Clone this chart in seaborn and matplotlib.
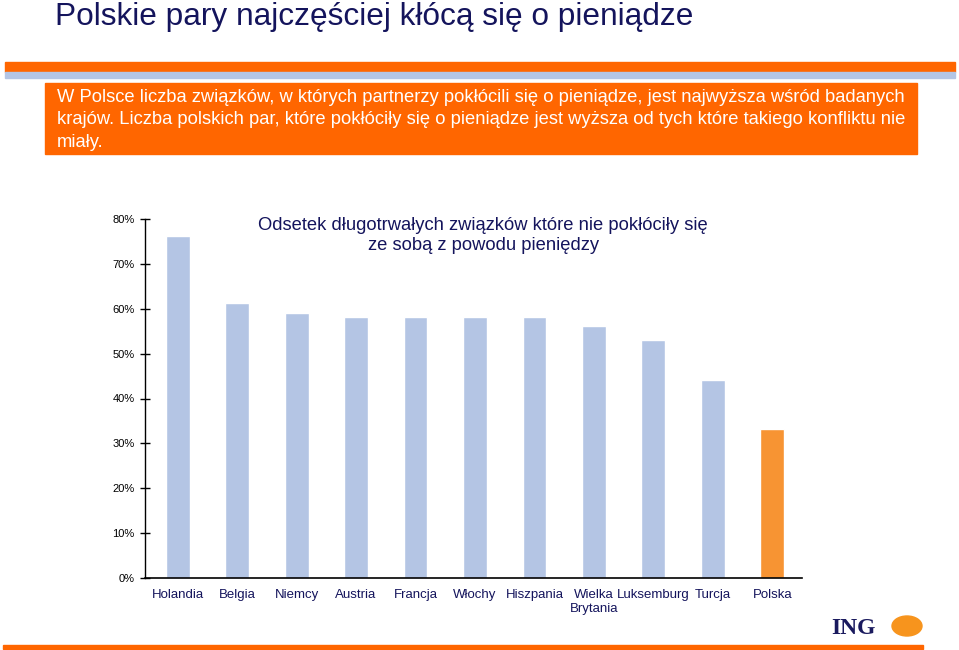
import matplotlib
matplotlib.use("Agg")
import matplotlib.pyplot as plt
import matplotlib.patches as patches
from matplotlib.ticker import PercentFormatter
import seaborn as sns

sns.set_style("white")
plt.rcParams['font.family'] = ['Liberation Sans', 'DejaVu Sans']

# Data
countries = ["Holandia", "Belgia", "Niemcy", "Austria", "Francja", "Włochy", "Hiszpania",
             "Wielka\nBrytania", "Luksemburg", "Turcja", "Polska"]
values = [76.2, 61.2, 59.0, 58.1, 58.1, 58.1, 58.1, 56.1, 53.0, 44.1, 33.2]
bar_colors = ["#b4c5e4"] * 10 + ["#f79433"]
yticks = [0, 10, 20, 30, 40, 50, 60, 70, 80]

title = "Polskie pary najczęściej kłócą się o pieniądze"
box_text = ("W Polsce liczba związków, w których partnerzy pokłócili się o pieniądze, jest najwyższa wśród badanych\n"
            "krajów. Liczba polskich par, które pokłóciły się o pieniądze jest wyższa od tych które takiego konfliktu nie\n"
            "miały.")
chart_title = "Odsetek długotrwałych związków które nie pokłóciły się\nze sobą z powodu pieniędzy"

navy = "#14145c"
W, H = 959, 650

fig = plt.figure(figsize=(W / 100, H / 100), dpi=100)

def fx(x):
    return x / W

def fy(y):
    return 1 - y / H

# Header
fig.text(fx(55), fy(17), title, fontsize=22.8, color=navy, va="center", ha="left")
fig.patches.append(patches.Rectangle((fx(5), fy(72)), fx(950), 10 / H, transform=fig.transFigure,
                                     color="#ff6600", zorder=0))
fig.patches.append(patches.Rectangle((fx(5), fy(78)), fx(950), 6 / H, transform=fig.transFigure,
                                     color="#b4c5e4", zorder=0))
fig.patches.append(patches.Rectangle((fx(45), fy(154)), fx(872), 71 / H, transform=fig.transFigure,
                                     color="#ff6600", zorder=0))
fig.text(fx(57), fy(120), box_text, fontsize=13.2, color="white", va="center", ha="left",
         linespacing=1.4)

# Bar chart
ax = fig.add_axes([fx(145), fy(578), fx(802 - 145), (578 - 219) / H])
sns.barplot(x=countries, y=values, hue=countries, palette=bar_colors, legend=False,
            width=0.4, saturation=1, ax=ax)
ax.set_ylim(0, 80)
ax.set_xlim(-0.55, 10.5)
ax.set_yticks(yticks)
ax.yaxis.set_major_formatter(PercentFormatter(decimals=0))
ax.set_xlabel("")
ax.set_ylabel("")
ax.tick_params(axis="y", left=True, direction="inout", length=7, width=1, labelsize=8,
               colors="black", pad=4)
ax.tick_params(axis="x", length=0, labelsize=9.5, labelcolor=navy, pad=8)
for s in ["top", "right"]:
    ax.spines[s].set_visible(False)
ax.spines["left"].set_linestyle((0, (1, 1)))
ax.spines["left"].set_color("black")
ax.spines["bottom"].set_color("black")
ax.spines["left"].set_linewidth(1)
ax.spines["bottom"].set_linewidth(1.2)

ax.text(0.515, 1.005, chart_title, transform=ax.transAxes, ha="center", va="top",
        fontsize=13.2, color=navy, linespacing=1.2)

# Footer
fig.text(fx(831), fy(628), "ING", fontsize=17, fontweight="bold", family="Liberation Serif",
         color="#1a1a5e", va="center", ha="left")
fig.patches.append(patches.Ellipse((fx(907), fy(626)), 30 / W, 20 / H, transform=fig.transFigure,
                                   color="#f7941d", zorder=1))
fig.patches.append(patches.Rectangle((fx(3), fy(649)), fx(920), 4 / H, transform=fig.transFigure,
                                     color="#ff6600", zorder=0))

fig.savefig("out.png", dpi=100)
